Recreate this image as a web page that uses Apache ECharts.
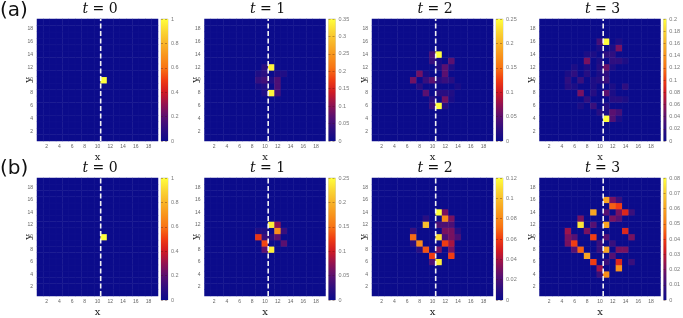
<!DOCTYPE html>
<html><head><meta charset="utf-8">
<script src="https://cdn.jsdelivr.net/npm/echarts@6/dist/echarts.min.js"></script>
<style>html,body{margin:0;padding:0;background:#fff;}#c{width:683px;height:318px;}</style>
</head><body><div id="c"></div>
<script>
// ---- data ----
const categories = ['1','2','3','4','5','6','7','8','9','10','11','12','13','14','15','16','17','18','19'];
const tickLabels = ['2','4','6','8','10','12','14','16','18'];
const times = [0, 1, 2, 3];
const rowLabels = ['(a)', '(b)'];
const colorMaxA = [1, 0.35, 0.25, 0.2];
const colorStepA = [0.2, 0.05, 0.05, 0.02];
const colorMaxB = [1, 0.25, 0.12, 0.08];
const colorStepB = [0.2, 0.05, 0.02, 0.01];
const startLineX = 10.5;

// [x, y, probability] ; cells not listed are 0
const a1Cells = [[11,10,1]];
const a2Cells = [[11,12,0.34],[11,8,0.34],[10,12,0.03],[9,11,0.02],[10,11,0.03],[9,10,0.04],[10,10,0.05],[11,10,0.02],
  [12,10,0.06],[12,9,0.06],[12,8,0.05],[10,9,0.02],[9,9,0.01],[10,8,0.02],[13,11,0.02],[12,11,0.02]];
const a3Cells = [[11,14,0.25],[11,6,0.25],[10,14,0.04],[10,13,0.03],[13,13,0.05],[12,12,0.05],[11,12,0.015],[12,11,0.05],
  [8,11,0.06],[7,10,0.06],[9,10,0.03],[10,10,0.05],[11,10,0.02],[12,10,0.03],[13,10,0.02],[14,9,0.01],[8,9,0.02],
  [9,8,0.05],[11,8,0.02],[12,8,0.02],[10,7,0.02],[12,7,0.06],[13,7,0.01],[10,6,0.03],[12,6,0.02],[9,11,0.01],
  [13,12,0.015],[11,13,0.01],[13,8,0.015]];
const a4Cells = [[11,16,0.2],[11,4,0.2],[10,16,0.03],[13,16,0.01],[13,15,0.05],[10,15,0.01],[12,15,0.01],
  [11,14,0.02],[12,14,0.02],[8,14,0.01],[9,14,0.01],[8,13,0.05],[10,13,0.01],[12,13,0.02],[13,13,0.02],[14,13,0.01],
  [10,12,0.015],[11,12,0.045],[6,12,0.01],[8,12,0.01],[12,12,0.01],[6,11,0.02],[5,11,0.01],[8,11,0.015],[10,11,0.01],
  [11,11,0.02],[5,10,0.02],[7,10,0.025],[9,10,0.01],[10,10,0.015],[11,10,0.025],[5,9,0.015],[6,9,0.01],[9,9,0.01],
  [12,9,0.01],[14,9,0.02],[7,8,0.05],[9,8,0.015],[11,8,0.04],[12,8,0.01],[8,7,0.02],[12,7,0.015],[13,7,0.015],
  [14,7,0.01],[7,6,0.01],[9,6,0.025],[11,6,0.015],[10,5,0.015],[12,5,0.04],[13,5,0.03],[11,5,0.01],[12,4,0.035],[13,4,0.01]];
const b1Cells = [[11,10,1]];
const b2Cells = [[11,12,0.24],[11,8,0.24],[12,11,0.17],[12,12,0.07],[13,11,0.03],[9,10,0.12],[10,9,0.13],[10,8,0.05],
  [12,10,0.05],[13,9,0.05],[10,10,0.03],[9,11,0.015],[11,10,0.02],[10,11,0.015]];
const b3Cells = [[11,14,0.12],[12,14,0.03],[12,13,0.08],[13,13,0.03],[9,12,0.1],[9,13,0.01],[11,12,0.02],[12,12,0.02],
  [13,12,0.02],[12,11,0.03],[13,11,0.03],[7,11,0.015],[7,10,0.07],[11,10,0.11],[12,10,0.02],[13,10,0.03],[14,10,0.02],
  [8,9,0.08],[7,9,0.01],[12,9,0.06],[13,9,0.04],[9,8,0.065],[11,8,0.03],[13,8,0.03],[10,7,0.06],[13,7,0.06],
  [11,6,0.115],[10,6,0.02],[8,8,0.01],[14,11,0.01]];
const b4Cells = [[11,16,0.06],[12,16,0.02],[13,16,0.01],[12,15,0.045],[13,15,0.04],[9,14,0.06],[13,14,0.02],[14,14,0.035],
  [11,14,0.015],[15,14,0.01],[7,13,0.02],[12,13,0.02],[13,13,0.015],[7,12,0.075],[11,12,0.06],[9,12,0.015],[5,11,0.025],
  [8,11,0.02],[14,11,0.035],[9,10,0.04],[5,10,0.02],[6,10,0.015],[15,10,0.02],[11,10,0.015],[6,9,0.04],[5,9,0.02],
  [10,9,0.01],[12,9,0.01],[7,8,0.045],[11,8,0.06],[6,8,0.015],[13,8,0.02],[14,8,0.02],[10,8,0.01],[8,7,0.06],
  [12,7,0.015],[9,6,0.04],[13,6,0.035],[15,6,0.01],[11,6,0.01],[10,5,0.025],[13,5,0.055],[11,4,0.055],[10,4,0.01]];

const palette = ['#0b0b8b','#2e0e80','#5a1070','#931250','#d01a24','#f03c12','#f87414','#f8941c','#f8b428','#fad634','#ffff3c'];

const panels = [
  {cells:a1Cells,row:0,col:0,max:colorMaxA[0],step:colorStepA[0]},
  {cells:a2Cells,row:0,col:1,max:colorMaxA[1],step:colorStepA[1]},
  {cells:a3Cells,row:0,col:2,max:colorMaxA[2],step:colorStepA[2]},
  {cells:a4Cells,row:0,col:3,max:colorMaxA[3],step:colorStepA[3]},
  {cells:b1Cells,row:1,col:0,max:colorMaxB[0],step:colorStepB[0]},
  {cells:b2Cells,row:1,col:1,max:colorMaxB[1],step:colorStepB[1]},
  {cells:b3Cells,row:1,col:2,max:colorMaxB[2],step:colorStepB[2]},
  {cells:b4Cells,row:1,col:3,max:colorMaxB[3],step:colorStepB[3]}
];

const chart = echarts.init(document.getElementById('c'), null, {renderer:'canvas'});
const option = {animation:false, grid:[], xAxis:[], yAxis:[], series:[], visualMap:[], graphic:[]};
const serifFont = 'DejaVu Serif';

panels.forEach((p) => {
  const left = 37 + 167.5 * p.col;
  const top = p.row ? 178 : 19;
  const W = 121, H = 122;
  const gi = option.grid.length;
  option.grid.push({left:left, top:top, width:W, height:H});
  option.grid.push({left:left + 124, top:top, width:7, height:H, show:true, borderColor:'#c8c8c8', borderWidth:0.8, backgroundColor:'transparent'});
  const xi = option.xAxis.length, yi = option.yAxis.length;
  const labelShow = (i, v) => tickLabels.indexOf(String(v)) >= 0;
  option.xAxis.push({type:'category', gridIndex:gi, data:categories, name:'x', nameLocation:'middle', nameGap:11,
    nameMoveOverlap:false,
    nameTextStyle:{fontFamily:serifFont, fontSize:10, color:'#222'},
    axisLine:{show:false}, axisTick:{show:false}, splitLine:{show:false},
    axisLabel:{interval:labelShow, fontSize:5, color:'#666', margin:3}});
  option.xAxis.push({type:'value', gridIndex:gi, min:0.5, max:19.5, show:false});
  option.xAxis.push({type:'category', gridIndex:gi+1, data:['c'], show:false});
  option.yAxis.push({type:'category', gridIndex:gi, data:categories, name:'y', nameLocation:'middle', nameGap:4,
    nameMoveOverlap:false,
    nameTextStyle:{fontFamily:serifFont, fontSize:10, color:'#222'},
    axisLine:{show:false}, axisTick:{show:false}, splitLine:{show:false},
    axisLabel:{interval:labelShow, fontSize:5, color:'#666', margin:4}});
  option.yAxis.push({type:'value', gridIndex:gi, min:0.5, max:19.5, show:false});
  option.yAxis.push({type:'value', gridIndex:gi+1, position:'right', min:0, max:p.max, interval:p.step, z:5,
    axisLine:{show:false}, axisTick:{show:false},
    splitLine:{show:true, lineStyle:{color:'rgba(70,20,20,0.55)', width:0.6, type:[2,2]}},
    axisLabel:{fontSize:5.5, color:'#777', margin:3}});

  const grid = {};
  p.cells.forEach(c => { grid[c[0] + '_' + c[1]] = c[2]; });
  const data = [];
  for (let x = 0; x < categories.length; x++) {
    for (let y = 0; y < categories.length; y++) {
      const v = grid[categories[x] + '_' + categories[y]] || 0;
      data.push([x, y, v]);
    }
  }
  const si = option.series.length;
  option.series.push({type:'heatmap', xAxisIndex:xi, yAxisIndex:yi, data:data, silent:true,
    itemStyle:{borderColor:'rgba(255,255,255,0.05)', borderWidth:0.5}});
  option.series.push({type:'line', xAxisIndex:xi+1, yAxisIndex:yi+1, data:[[startLineX,0.5],[startLineX,19.5]],
    symbol:'none', silent:true, z:5, lineStyle:{color:'#f2f2f2', width:1.6, type:[5,2.5]}});
  option.series.push({type:'bar', xAxisIndex:xi+2, yAxisIndex:yi+2, data:[p.max], barWidth:'100%', silent:true,
    itemStyle:{color:new echarts.graphic.LinearGradient(0,1,0,0, palette.map((c,i)=>({offset:i/(palette.length-1), color:c})))}});
  option.visualMap.push({type:'continuous', show:false, seriesIndex:si, dimension:2, min:0, max:p.max, inRange:{color:palette}});

  option.graphic.push({type:'text', x:left + 63, y:top - 10, silent:true,
    style:{text:'{i|t} = ' + times[p.col], textAlign:'center', textVerticalAlign:'middle',
      font:'14px "DejaVu Serif"', fill:'#111',
      rich:{i:{fontFamily:serifFont, fontStyle:'italic', fontSize:14, color:'#111'}}}});
});
rowLabels.forEach((t, r) => {
  option.graphic.push({type:'text', x:0, y:r ? 169 : 11, silent:true,
    style:{text:t, textAlign:'left', textVerticalAlign:'middle', font:'20px "DejaVu Sans"', fill:'#111'}});
});
chart.setOption(option);
</script></body></html>
